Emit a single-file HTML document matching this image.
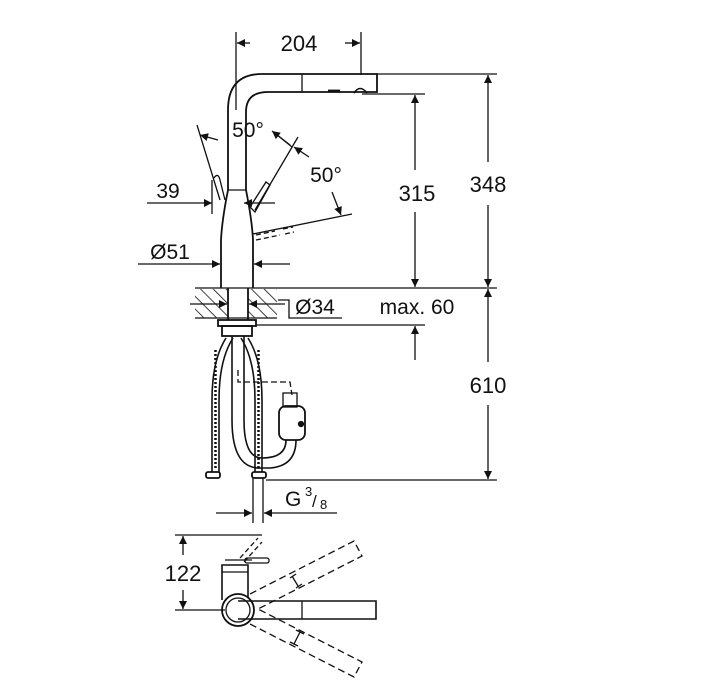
<!DOCTYPE html>
<html><head><meta charset="utf-8"><style>
html,body{margin:0;padding:0;background:#fff;}
svg{display:block;}
text{font-family:"Liberation Sans",sans-serif;fill:#111;}
</style></head><body>
<svg width="716" height="683" viewBox="0 0 716 683" xmlns="http://www.w3.org/2000/svg">
<defs>
<marker id="a" viewBox="0 0 10 10" refX="10" refY="5" markerWidth="16" markerHeight="8" orient="auto-start-reverse" markerUnits="userSpaceOnUse"><path d="M0,0L10,5L0,10z" fill="#111"/></marker>
<pattern id="h" width="9" height="9" patternUnits="userSpaceOnUse" patternTransform="rotate(-45)"><line x1="0" y1="0" x2="0" y2="9" stroke="#111" stroke-width="1.6"/></pattern>
</defs>
<g stroke="#111" stroke-width="1.3" fill="none">
<line x1="236" y1="32" x2="236" y2="110"/>
<line x1="361" y1="32" x2="361" y2="75"/>
<line x1="250" y1="43" x2="237" y2="43" marker-end="url(#a)"/>
<line x1="345" y1="43" x2="360" y2="43" marker-end="url(#a)"/>
<path d="M228,190 L228,110 Q228,74 262,74 L377,74 L377,92 L268,92 Q246,92 246,112 L246,190" stroke-width="1.8"/>
<line x1="302" y1="74" x2="302" y2="92"/>
<path d="M354,93 Q360,84 367,93" stroke-width="1.6"/>
<line x1="328" y1="91" x2="340" y2="91" stroke-width="2.8"/>
<line x1="377" y1="74" x2="497" y2="74"/>
<line x1="362" y1="94" x2="425" y2="94"/>
<path d="M228,190 Q222,220 221,240 L221,288 M246,190 Q252,220 253,240 L253,288" stroke-width="1.8"/>
<line x1="228" y1="190" x2="246" y2="190"/>
<line x1="197" y1="125" x2="220" y2="200"/>
<line x1="298" y1="137" x2="255" y2="210"/>
<path d="M250,207 L266,182 L270,185 L255,212z" stroke-width="1.3"/>
<path d="M214,178 Q218,172 220,180 L225,200" />
<line x1="218" y1="140" x2="200" y2="135" marker-end="url(#a)"/>
<line x1="276" y1="134" x2="292" y2="147"/>
<line x1="290" y1="145" x2="272" y2="131" marker-end="url(#a)"/>
<line x1="295" y1="147" x2="310" y2="157" marker-end="url(#a)" transform="rotate(180 302 152)"/>
<line x1="332" y1="192" x2="341" y2="215" marker-end="url(#a)"/>
<line x1="253" y1="234" x2="352" y2="214"/>
<path d="M256,235 L275,231 M256,240 L280,235 M283,229 L293,227 M285,234 L294,232" stroke-dasharray="5,3"/>
<line x1="147" y1="203" x2="212" y2="203" marker-end="url(#a)"/>
<line x1="212" y1="180" x2="212" y2="214"/>
<line x1="253" y1="203" x2="275" y2="203"/>
<line x1="244" y1="203" x2="252" y2="203" marker-end="url(#a)" transform="rotate(180 248 203)"/>
<line x1="138" y1="264" x2="220" y2="264" marker-end="url(#a)"/>
<line x1="290" y1="264" x2="254" y2="264" marker-end="url(#a)"/>
<line x1="195" y1="288" x2="497" y2="288"/>
<line x1="195" y1="318" x2="277" y2="318"/>
<rect x="195" y="289" width="33" height="29" fill="url(#h)" stroke="none"/>
<rect x="248" y="289" width="29" height="29" fill="url(#h)" stroke="none"/>
<line x1="228" y1="288" x2="228" y2="320" stroke-width="1.8"/>
<line x1="248" y1="288" x2="248" y2="320" stroke-width="1.8"/>
<line x1="190" y1="304" x2="227" y2="304" marker-end="url(#a)"/>
<line x1="285" y1="304" x2="249" y2="304" marker-end="url(#a)"/>
<path d="M278,300 L289,300 L289,318 L342,318"/>
<rect x="218" y="320" width="38" height="6" stroke-width="1.8"/>
<rect x="222" y="326" width="30" height="10" stroke-width="1.8"/>
<line x1="256" y1="325" x2="425" y2="325"/>
<line x1="415" y1="360" x2="415" y2="326" marker-end="url(#a)"/>
<path d="M226,338 Q212,360 212,400 L212,472 M233,338 Q219,360 219,400 L219,472" stroke-width="1.6"/>
<path d="M248,338 Q262,360 262,400 L262,472 M241,338 Q255,360 255,400 L255,472" stroke-width="1.6"/>
<line x1="215.5" y1="350" x2="215.5" y2="470" stroke-width="2.5" stroke-dasharray="2,2"/>
<line x1="258.5" y1="350" x2="258.5" y2="470" stroke-width="2.5" stroke-dasharray="2,2"/>
<rect x="206" y="472" width="14" height="6" rx="2" stroke-width="1.8"/>
<rect x="252" y="472" width="14" height="6" rx="2" stroke-width="1.8"/>
<path d="M232,336 L232,420 Q232,470 262,468 L270,468 Q296,466 296,440 M244,336 L244,420 Q244,458 262,458 Q286,458 286,440" stroke-width="1.6"/>
<path d="M238,370 L238,382 L290,382 L292,395" stroke-dasharray="6,3"/>
<rect x="283" y="393" width="14" height="14"/>
<rect x="279" y="406" width="26" height="34" rx="7" stroke-width="1.8"/>
<circle cx="301" cy="424" r="2.5" fill="#111"/>
<line x1="415" y1="170" x2="415" y2="95" marker-end="url(#a)"/>
<line x1="415" y1="212" x2="415" y2="287" marker-end="url(#a)"/>
<line x1="488" y1="162" x2="488" y2="75" marker-end="url(#a)"/>
<line x1="488" y1="205" x2="488" y2="287" marker-end="url(#a)"/>
<line x1="488" y1="330" x2="488" y2="289" marker-end="url(#a)"/>
<line x1="488" y1="362" x2="488" y2="330"/>
<line x1="488" y1="405" x2="488" y2="479" marker-end="url(#a)"/>
<line x1="266" y1="480" x2="497" y2="480"/>
<line x1="253" y1="478" x2="253" y2="523"/>
<line x1="263" y1="478" x2="263" y2="523"/>
<line x1="216" y1="513" x2="252" y2="513" marker-end="url(#a)"/>
<line x1="337" y1="513" x2="264" y2="513" marker-end="url(#a)"/>
<line x1="175" y1="535" x2="262" y2="535"/>
<line x1="175" y1="610" x2="225" y2="610"/>
<line x1="183" y1="555" x2="183" y2="536" marker-end="url(#a)"/>
<line x1="183" y1="590" x2="183" y2="609" marker-end="url(#a)"/>
<path d="M222,600 L222,565 L248,565 L248,598" stroke-width="1.6"/>
<path d="M222,572 L248,572 M225,560 L252,560" stroke-width="1.3"/>
<rect x="245" y="558" width="24" height="5" rx="2"/>
<path d="M240,558 L258,538 M244,562 L262,542" stroke-dasharray="5,3"/>
<circle cx="238" cy="610" r="16" stroke-width="1.8"/>
<circle cx="238" cy="610" r="12"/>
<path d="M238,601 L376,601 L376,619 L238,619" stroke-width="1.6"/>
<line x1="302" y1="601" x2="302" y2="619"/>
<g stroke-dasharray="7,4">
<path d="M250,594 L354,541 L362,556 L258,609"/>
<path d="M250,626 L354,679 L362,664 L258,611" transform="translate(0,-2)"/>
</g>
<line x1="292" y1="576" x2="298" y2="586"/>
<line x1="290" y1="578" x2="296" y2="574"/><line x1="296" y1="588" x2="302" y2="584"/>
<line x1="294" y1="644" x2="300" y2="632"/>
<line x1="290" y1="642" x2="298" y2="646"/><line x1="296" y1="630" x2="304" y2="634"/>
</g>
<text x="299" y="51" font-size="22" text-anchor="middle">204</text>
<text x="248" y="137" font-size="21" text-anchor="middle">50°</text>
<text x="326" y="182" font-size="21" text-anchor="middle">50°</text>
<text x="168" y="198" font-size="21" text-anchor="middle">39</text>
<text x="170" y="259" font-size="21" text-anchor="middle">Ø51</text>
<text x="315" y="314" font-size="21" text-anchor="middle">Ø34</text>
<text x="417" y="314" font-size="21" text-anchor="middle">max. 60</text>
<text x="417" y="201" font-size="22" text-anchor="middle">315</text>
<text x="488" y="192" font-size="22" text-anchor="middle">348</text>
<text x="488" y="393" font-size="22" text-anchor="middle">610</text>
<text x="285" y="506" font-size="21">G</text>
<text x="305" y="496" font-size="13">3</text>
<text x="312" y="507" font-size="17">/</text>
<text x="320" y="509" font-size="13">8</text>
<text x="183" y="581" font-size="22" text-anchor="middle">122</text>
</svg>
</body></html>
